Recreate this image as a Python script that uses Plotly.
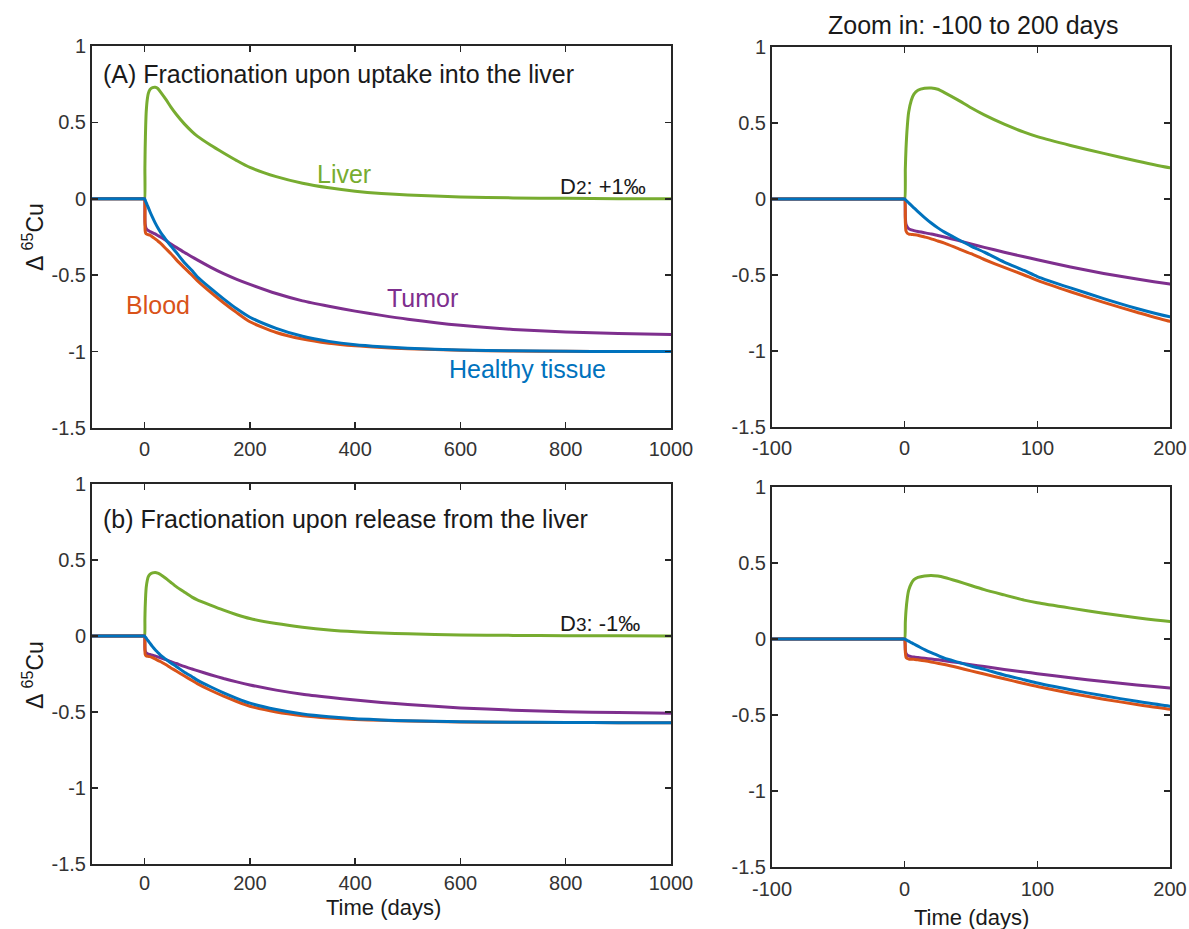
import plotly.graph_objects as go

# ---------------- data ----------------
time_days = [-100, -50, -1, 0, 0.5, 1, 2, 3, 5, 7, 10, 15, 20, 25, 30, 40, 50, 60, 75, 90, 100,
             125, 150, 175, 200, 250, 300, 350, 400, 450, 500, 600, 700, 800, 900, 1000]

# (A) Fractionation upon uptake into the liver
liver_A = [0, 0, 0, 0, 0.2, 0.33, 0.48, 0.57, 0.65, 0.69, 0.715, 0.728, 0.73, 0.722, 0.70,
           0.652, 0.60, 0.553, 0.492, 0.44, 0.41, 0.352, 0.30, 0.25, 0.205, 0.145, 0.102,
           0.072, 0.05, 0.035, 0.025, 0.012, 0.006, 0.003, 0.001, 0.0]
blood_A = [0, 0, 0, 0, -0.15, -0.21, -0.225, -0.23, -0.233, -0.235, -0.238, -0.25, -0.262,
           -0.276, -0.29, -0.325, -0.36, -0.398, -0.45, -0.5, -0.535, -0.61, -0.68, -0.745,
           -0.805, -0.875, -0.918, -0.945, -0.962, -0.973, -0.981, -0.991, -0.996, -0.998,
           -1.0, -1.0]
tumor_A = [0, 0, 0, 0, -0.12, -0.165, -0.185, -0.195, -0.203, -0.208, -0.214, -0.222, -0.23,
           -0.24, -0.25, -0.272, -0.296, -0.318, -0.35, -0.38, -0.40, -0.447, -0.49, -0.527,
           -0.56, -0.62, -0.668, -0.703, -0.735, -0.763, -0.788, -0.828, -0.855, -0.872,
           -0.882, -0.888]
healthy_A = [0, 0, 0, 0, -0.004, -0.008, -0.017, -0.025, -0.042, -0.058, -0.083, -0.122,
             -0.158, -0.19, -0.218, -0.265, -0.31, -0.35, -0.415, -0.47, -0.51, -0.585,
             -0.655, -0.72, -0.775, -0.848, -0.9, -0.933, -0.955, -0.968, -0.978, -0.989,
             -0.995, -0.998, -0.999, -1.0]

# (b) Fractionation upon release from the liver
liver_B = [0, 0, 0, 0, 0.11, 0.185, 0.27, 0.32, 0.365, 0.39, 0.405, 0.415, 0.418, 0.414,
           0.405, 0.38, 0.352, 0.325, 0.29, 0.256, 0.238, 0.203, 0.17, 0.14, 0.115, 0.082,
           0.058, 0.04, 0.028, 0.02, 0.014, 0.007, 0.004, 0.002, 0.001, 0.0]
blood_B = [0, 0, 0, 0, -0.085, -0.12, -0.128, -0.131, -0.133, -0.134, -0.136, -0.143, -0.151,
           -0.16, -0.168, -0.188, -0.21, -0.23, -0.262, -0.293, -0.313, -0.357, -0.396,
           -0.431, -0.462, -0.5, -0.524, -0.539, -0.549, -0.555, -0.56, -0.565, -0.568,
           -0.569, -0.57, -0.57]
tumor_B = [0, 0, 0, 0, -0.07, -0.095, -0.106, -0.111, -0.116, -0.119, -0.122, -0.127, -0.132,
           -0.137, -0.143, -0.155, -0.169, -0.181, -0.2, -0.217, -0.228, -0.255, -0.28,
           -0.302, -0.322, -0.356, -0.383, -0.403, -0.421, -0.437, -0.451, -0.473, -0.488,
           -0.498, -0.504, -0.508]
healthy_B = [0, 0, 0, 0, -0.002, -0.005, -0.01, -0.014, -0.024, -0.033, -0.047, -0.07, -0.09,
             -0.108, -0.126, -0.152, -0.178, -0.2, -0.237, -0.268, -0.29, -0.334, -0.374,
             -0.41, -0.442, -0.484, -0.513, -0.532, -0.545, -0.552, -0.558, -0.564, -0.567,
             -0.569, -0.57, -0.57]

series_names = ["Liver", "Blood", "Tumor", "Healthy tissue"]
series_colors = ["#77AC30", "#D95319", "#7E2F8E", "#0072BD"]

y_tickvals = [1, 0.5, 0, -0.5, -1, -1.5]
y_ticktext = ["1", "0.5", "0", "-0.5", "-1", "-1.5"]
x_left_tickvals = [0, 200, 400, 600, 800, 1000]
x_left_ticktext = ["0", "200", "400", "600", "800", "1000"]
x_right_tickvals = [-100, 0, 100, 200]
x_right_ticktext = ["-100", "0", "100", "200"]

# ---------------- layout helpers ----------------
W, H = 1189, 929
def px(x):
    return x / W
def py(y):
    return 1 - y / H

FONT = "Liberation Sans, Arial, Helvetica, sans-serif"
AXC = "#262626"
TICKC = "#333333"

fig = go.Figure()

panels = [
    ("x", "y", [liver_A, blood_A, tumor_A, healthy_A]),
    ("x2", "y2", [liver_A, blood_A, tumor_A, healthy_A]),
    ("x3", "y3", [liver_B, blood_B, tumor_B, healthy_B]),
    ("x4", "y4", [liver_B, blood_B, tumor_B, healthy_B]),
]
order = [0, 2, 1, 3]
for xa, ya, data in panels:
    for i in order:
        fig.add_trace(go.Scatter(
            x=time_days, y=data[i], mode="lines", name=series_names[i],
            line=dict(color=series_colors[i], width=3, shape="spline", smoothing=0.6),
            xaxis=xa, yaxis=ya, showlegend=False, hoverinfo="skip"))

def xaxis(domain, rng, tv, tt, anchor, standoff=0):
    return dict(domain=domain, range=rng, tickvals=tv, ticktext=tt, anchor=anchor,
                automargin=False, ticklabelstandoff=standoff,
                showline=True, linecolor=AXC, linewidth=2, mirror="ticks",
                ticks="inside", ticklen=6, tickwidth=1.5, tickcolor=AXC,
                showgrid=False, zeroline=False,
                tickfont=dict(family=FONT, size=20, color=TICKC))

def yaxis(domain, anchor):
    return dict(domain=domain, range=[-1.5, 1], tickvals=y_tickvals, ticktext=y_ticktext,
                anchor=anchor, automargin=False,
                showline=True, linecolor=AXC, linewidth=2, mirror="ticks",
                ticks="inside", ticklen=6, tickwidth=1.5, tickcolor=AXC,
                showgrid=False, zeroline=False,
                tickfont=dict(family=FONT, size=20, color=TICKC))

L = [px(92), px(671)]
R = [px(772), px(1170)]
TL = [py(428), py(46)]
BL = [py(864), py(484)]
TR = [py(427), py(47)]
BR = [py(867), py(487)]

fig.update_layout(
    template="none",
    width=W, height=H, margin=dict(l=0, r=0, t=0, b=0, autoexpand=False),
    paper_bgcolor="white", plot_bgcolor="white", showlegend=False,
    font=dict(family=FONT),
    xaxis=xaxis(L, [-100, 1000], x_left_tickvals, x_left_ticktext, "y", 2),
    yaxis=yaxis(TL, "x"),
    xaxis2=xaxis(R, [-100, 200], x_right_tickvals, x_right_ticktext, "y2", 2),
    yaxis2=yaxis(TR, "x2"),
    xaxis3=xaxis(L, [-100, 1000], x_left_tickvals, x_left_ticktext, "y3", 0),
    yaxis3=yaxis(BL, "x3"),
    xaxis4=xaxis(R, [-100, 200], x_right_tickvals, x_right_ticktext, "y4", 3),
    yaxis4=yaxis(BR, "x4"),
)

def note(text, x, y, size=25, color="#1a1a1a", xanchor="center", angle=0):
    fig.add_annotation(text=text, x=px(x), y=py(y), xref="paper", yref="paper",
                       xanchor=xanchor, yanchor="middle", showarrow=False, textangle=angle,
                       font=dict(family=FONT, size=size, color=color))

note("(A) Fractionation upon uptake into the liver", 101, 74, xanchor="left")
note("(b) Fractionation upon release from the liver", 101, 519, xanchor="left")
note("Liver", 344, 174, color=series_colors[0])
note("Blood", 158, 305, color=series_colors[1])
note("Tumor", 422, 298, color=series_colors[2])
note("Healthy tissue", 527, 369, color=series_colors[3])
note("D<span style='font-size:19px'>2</span>: +1‰", 558, 186, size=22, xanchor="left")
note("D<span style='font-size:19px'>3</span>: -1‰", 558, 623, size=22, xanchor="left")
note("Zoom in: -100 to 200 days", 973, 25, size=25)
note("Δ <sup>65</sup>Cu", 33, 237, size=23, angle=-90)
note("Δ <sup>65</sup>Cu", 33, 675, size=23, angle=-90)
note("Time (days)", 383, 907, size=22)
note("Time (days)", 971, 917, size=22)

fig.write_html(
    "out.html",
    config={"displayModeBar": False, "staticPlot": True},
    post_script="document.body.style.margin='0';document.body.style.overflow='hidden';",
)
